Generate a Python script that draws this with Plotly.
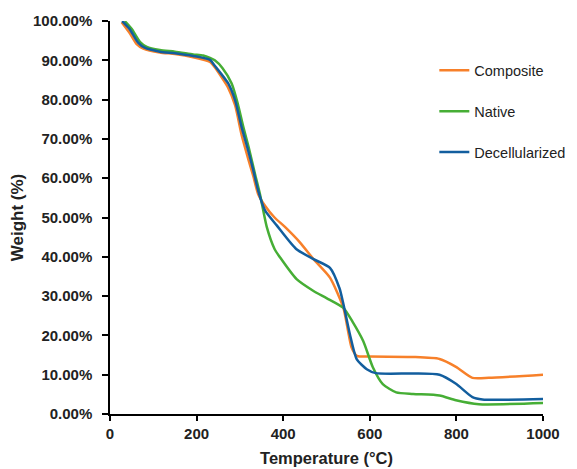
import plotly.graph_objects as go

# Composite
comp_t = [27, 45, 61, 77, 115, 150, 192, 231, 242, 273, 289, 304, 319, 331, 342, 358, 380, 404, 440, 470, 508, 539, 550, 558, 570, 600, 700, 761, 799, 837, 875, 1000]
comp_w = [99.7, 97, 94.2, 93, 92, 91.6, 90.8, 89.6, 88.2, 83, 78.5, 71, 65, 60.5, 56, 53, 50, 47.6, 43.5, 39.4, 34.7, 27, 21, 16.9, 14.8, 14.6, 14.5, 14.0, 12.0, 9.2, 9.2, 10.0]

# Native
nat_t = [34, 50, 69, 85, 115, 150, 192, 215, 231, 242, 260, 281, 295, 308, 320, 335, 346, 362, 380, 393, 431, 470, 500, 539, 560, 585, 607, 630, 661, 700, 761, 799, 852, 1000]
nat_w = [100, 98, 94.7, 93.4, 92.6, 92.2, 91.5, 91.2, 90.6, 90, 88, 84.1, 79, 73, 68, 61, 56.1, 47.6, 42, 39.8, 34.3, 31.3, 29.5, 27, 23.5, 18.5, 11.9, 7.6, 5.5, 5.1, 4.7, 3.5, 2.5, 2.8]

# Decellularized
dec_t = [28, 45, 65, 80, 115, 150, 192, 231, 242, 273, 289, 304, 319, 331, 342, 358, 385, 430, 470, 508, 530, 539, 554, 570, 593, 614, 700, 761, 799, 837, 860, 1000]
dec_w = [100, 98, 94.5, 93.2, 92.2, 91.8, 91.1, 90.1, 88.6, 84.1, 79.8, 73, 67.1, 62, 56.9, 51.8, 48, 42, 39.4, 37.2, 32, 28, 20.3, 13.9, 11.4, 10.4, 10.3, 10.0, 7.7, 4.3, 3.7, 3.8]

series = [
    ("Composite", comp_t, comp_w, "#F7802A"),
    ("Native", nat_t, nat_w, "#46AE35"),
    ("Decellularized", dec_t, dec_w, "#125E9E"),
]

y_ticks = [0, 10, 20, 30, 40, 50, 60, 70, 80, 90, 100]
y_ticktext = [f"{v:.2f}%" for v in y_ticks]
x_ticks = [0, 200, 400, 600, 800, 1000]

fig = go.Figure()
for name, t, w, c in series:
    fig.add_trace(go.Scatter(x=t, y=w, mode="lines", name=name, legendgroup=name,
                             line=dict(color=c, width=2.5, shape="spline", smoothing=0.6)))

fig.update_layout(
    width=600, height=469,
    margin=dict(l=102, r=65, t=13, b=63),
    plot_bgcolor="white", paper_bgcolor="white",
    font=dict(family="Liberation Sans, Arial, sans-serif", color="#222"),
    legend=dict(x=0.749, y=0.915, xanchor="left", yanchor="top",
                traceorder="grouped", tracegroupgap=19,
                font=dict(size=14.5, color="#222"), bgcolor="rgba(0,0,0,0)"),
    xaxis=dict(range=[0, 1000], tickvals=x_ticks, showgrid=False, zeroline=False,
               automargin=False,
               showline=True, linecolor="black", linewidth=1.5,
               ticks="outside", ticklen=5, tickcolor="black", tickwidth=1.5,
               tickfont=dict(size=15, family="Liberation Sans, Arial", weight="bold"),
               title=dict(text="<b>Temperature (°C)</b>", font=dict(size=16.5), standoff=12)),
    yaxis=dict(range=[0, 100], tickvals=y_ticks, ticktext=y_ticktext, showgrid=False, zeroline=False,
               automargin=False,
               showline=True, linecolor="black", linewidth=1.5,
               ticks="outside", ticklen=6, tickcolor="black", tickwidth=1.5,
               ticklabelstandoff=7,
               tickfont=dict(size=15, family="Liberation Sans, Arial", weight="bold"),
               title=dict(text="<b>Weight (%)</b>", font=dict(size=17), standoff=6)),
)

fig.write_html("out.html")
